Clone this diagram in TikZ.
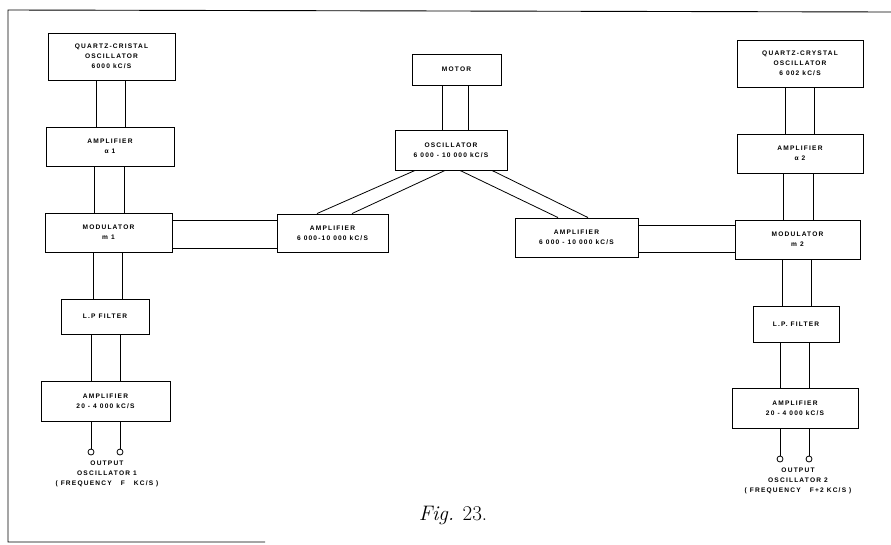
\documentclass[tikz,border=0pt]{standalone}
\usepackage{fontspec}
\newfontfamily\boxfont[LetterSpace=18]{Liberation Sans Bold}
\newcommand\vpair[4]{\path (#3,0) coordinate (va) (#4,0) coordinate (vb);
  \draw[wire] (#1.south -| va) -- (#2.north -| va) (#1.south -| vb) -- (#2.north -| vb);}
\newcommand\hpair[4]{\path (0,#3) coordinate (ha) (0,#4) coordinate (hb);
  \draw[wire] (#1.east |- ha) -- (#2.west |- ha) (#1.east |- hb) -- (#2.west |- hb);}
\newcommand\dpair[6]{\path (#3,0) coordinate (da) (#4,0) coordinate (db) (#5,0) coordinate (dc) (#6,0) coordinate (dd);
  \draw[wire] (#1.south -| da) -- (#2.north -| dc) (#1.south -| db) -- (#2.north -| dd);}
\begin{document}
\begin{tikzpicture}[x=1pt,y=-1pt,
  box/.style={draw, line width=0.9pt, inner sep=0pt, align=center,
    font=\boxfont\fontsize{6.6}{10}\selectfont},
  wire/.style={line width=0.8pt},
  term/.style={draw, circle, line width=0.8pt, minimum size=6pt, inner sep=0pt},
  lab/.style={align=center, inner sep=0pt, font=\boxfont\fontsize{6.6}{10}\selectfont}]
\useasboundingbox (0,0) rectangle (891,544);
% frame
\draw[line width=0.9pt] (891,12) -- (8,10) -- (8,542) -- (265,542);
% left column
\node[box, minimum width=127pt, minimum height=47pt] (q1) at (111.5,56.5) {QUARTZ-CRISTAL\\OSCILLATOR\\6000 kC/S};
\node[box, minimum width=128pt, minimum height=39pt] (a1) at (110,146.5) {AMPLIFIER\\α 1};
\node[box, minimum width=127pt, minimum height=39pt] (m1) at (108.5,232.5) {MODULATOR\\m 1};
\node[box, minimum width=88pt, minimum height=35pt] (f1) at (105,316.5) {L.P FILTER};
\node[box, minimum width=129pt, minimum height=40pt] (o1) at (105.5,401) {AMPLIFIER\\20 - 4 000 kC/S};
\node[term] (t1a) at (91,452) {};
\node[term] (t1b) at (120,452) {};
\node[lab] (l1) at (107,474) {OUTPUT\\OSCILLATOR 1\\( FREQUENCY\ \ \ F\ \ \ KC/S )};
% center
\node[box, minimum width=89pt, minimum height=31pt] (mot) at (456.5,69.5) {MOTOR};
\node[box, minimum width=112pt, minimum height=40pt] (osc) at (451,150) {OSCILLATOR\\6 000 - 10 000 kC/S};
\node[box, minimum width=111pt, minimum height=38pt] (ampL) at (332.5,233) {AMPLIFIER\\6 000-10 000 kC/S};
\node[box, minimum width=123pt, minimum height=39pt] (ampR) at (576.5,237.5) {AMPLIFIER\\6 000 - 10 000 kC/S};
% right column
\node[box, minimum width=126pt, minimum height=47pt] (q2) at (800,63.5) {QUARTZ-CRYSTAL\\OSCILLATOR\\6 002 kC/S};
\node[box, minimum width=126pt, minimum height=39pt] (a2) at (800,153.5) {AMPLIFIER\\α 2};
\node[box, minimum width=125pt, minimum height=39pt] (m2) at (797.5,239.5) {MODULATOR\\m 2};
\node[box, minimum width=86pt, minimum height=36pt] (f2) at (796,324) {L.P. FILTER};
\node[box, minimum width=126pt, minimum height=40pt] (o2) at (795,408) {AMPLIFIER\\20 - 4 000 kC/S};
\node[term] (t2a) at (780,459) {};
\node[term] (t2b) at (809,459) {};
\node[lab] (l2) at (798,481) {OUTPUT\\OSCILLATOR 2\\( FREQUENCY\ \ \ F+2 KC/S )};
% connectors
\vpair{q1}{a1}{96}{125}
\vpair{a1}{m1}{94}{124}
\vpair{m1}{f1}{93}{122}
\vpair{f1}{o1}{91}{120}
\draw[wire] (o1.south -| t1a) -- (t1a.north) (o1.south -| t1b) -- (t1b.north);
\vpair{mot}{osc}{442}{468}
\dpair{osc}{ampL}{415}{445}{317}{352}
\dpair{osc}{ampR}{460}{492}{558}{588}
\hpair{m1}{ampL}{220}{248}
\hpair{ampR}{m2}{225}{252}
\vpair{q2}{a2}{785}{814}
\vpair{a2}{m2}{783}{813}
\vpair{m2}{f2}{782}{811}
\vpair{f2}{o2}{780}{809}
\draw[wire] (o2.south -| t2a) -- (t2a.north) (o2.south -| t2b) -- (t2b.north);
% caption
\node (cap) at (453,515) {\fontsize{21}{25}\selectfont\textit{Fig.} 23.};
\end{tikzpicture}
\end{document}
